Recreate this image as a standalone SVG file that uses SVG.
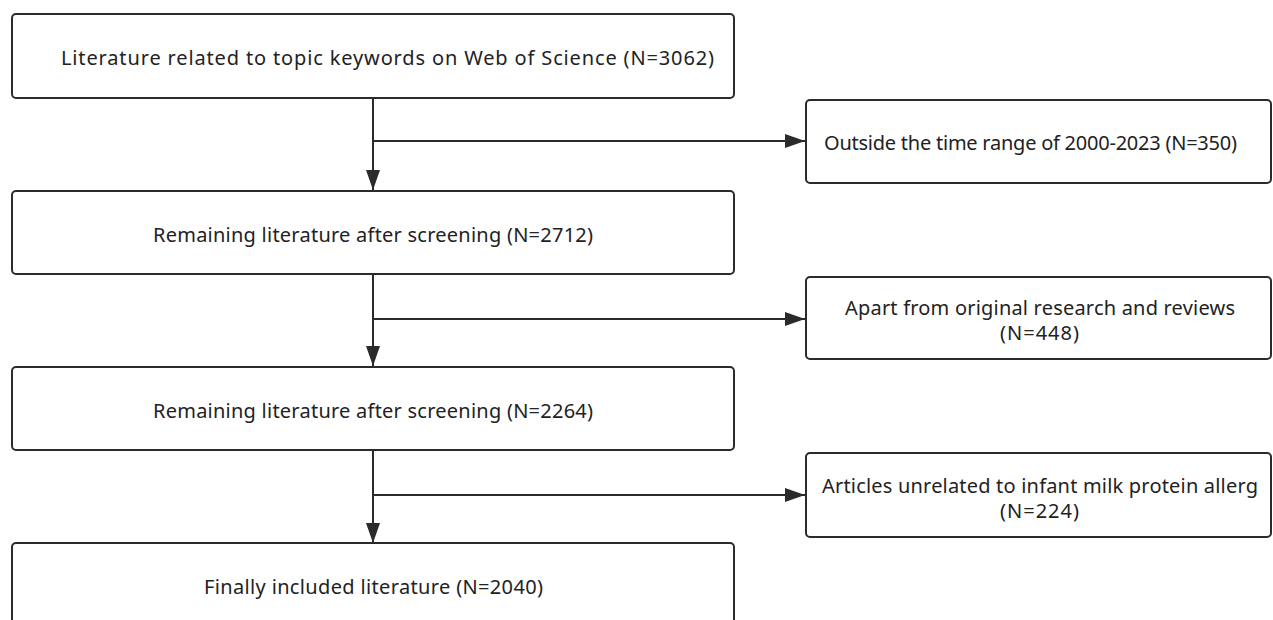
<svg xmlns="http://www.w3.org/2000/svg" width="1273" height="620" viewBox="0 0 1273 620">
<defs>
<style>
.box{fill:#ffffff;stroke:#2b2b2b;stroke-width:2}
.t{font-family:"Noto Sans","Open Sans","DejaVu Sans",sans-serif;font-size:20px;fill:#222;text-anchor:middle;dominant-baseline:central}
.c{fill:none;stroke:#2b2b2b;stroke-width:2}
</style>
<marker id="ah" markerWidth="20" markerHeight="14" refX="20" refY="7" orient="auto" markerUnits="userSpaceOnUse">
<path d="M0,0 L20,7 L0,14 Z" fill="#2b2b2b"/>
</marker>
</defs>
<rect width="1273" height="620" fill="#ffffff"/>
<g id="connectors">
<line class="c" x1="373" y1="98" x2="373" y2="190" marker-end="url(#ah)"/>
<line class="c" x1="373" y1="141" x2="805" y2="141" marker-end="url(#ah)"/>
<line class="c" x1="373" y1="274" x2="373" y2="366" marker-end="url(#ah)"/>
<line class="c" x1="373" y1="319" x2="805" y2="319" marker-end="url(#ah)"/>
<line class="c" x1="373" y1="450" x2="373" y2="543" marker-end="url(#ah)"/>
<line class="c" x1="373" y1="495" x2="805" y2="495" marker-end="url(#ah)"/>
</g>
<g id="n1">
<rect class="box" x="12" y="14" width="722" height="84" rx="4"/>
<text class="t" x="387.5" y="57" textLength="653" lengthAdjust="spacing">Literature related to topic keywords on Web of Science (N=3062)</text>
</g>
<g id="n2">
<rect class="box" x="806" y="100" width="465" height="83" rx="4"/>
<text class="t" x="1030.5" y="142" textLength="413" lengthAdjust="spacing">Outside the time range of 2000-2023 (N=350)</text>
</g>
<g id="n3">
<rect class="box" x="12" y="191" width="722" height="83" rx="4"/>
<text class="t" x="373" y="234" textLength="440" lengthAdjust="spacing">Remaining literature after screening (N=2712)</text>
</g>
<g id="n4">
<rect class="box" x="806" y="277" width="465" height="82" rx="4"/>
<text class="t" x="1040" y="307" textLength="390" lengthAdjust="spacing">Apart from original research and reviews</text>
<text class="t" x="1039.5" y="332" textLength="79" lengthAdjust="spacing">(N=448)</text>
</g>
<g id="n5">
<rect class="box" x="12" y="367" width="722" height="83" rx="4"/>
<text class="t" x="373" y="410" textLength="440" lengthAdjust="spacing">Remaining literature after screening (N=2264)</text>
</g>
<g id="n6">
<rect class="box" x="806" y="453" width="465" height="84" rx="4"/>
<text class="t" x="1040" y="485" textLength="436" lengthAdjust="spacing">Articles unrelated to infant milk protein allerg</text>
<text class="t" x="1039.5" y="510" textLength="79" lengthAdjust="spacing">(N=224)</text>
</g>
<g id="n7">
<rect class="box" x="12" y="543" width="722" height="90" rx="4"/>
<text class="t" x="373.5" y="586" textLength="339" lengthAdjust="spacing">Finally included literature (N=2040)</text>
</g>
</svg>
